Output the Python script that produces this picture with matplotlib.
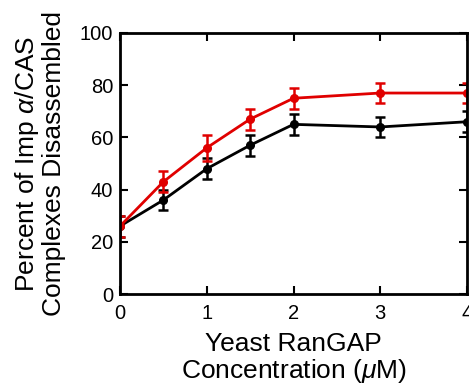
import numpy as np
import matplotlib.pyplot as plt

plt.rcParams['font.family'] = ['Liberation Sans', 'DejaVu Sans']
plt.rcParams['mathtext.fontset'] = 'custom'
plt.rcParams['mathtext.it'] = 'Liberation Sans:italic'
plt.rcParams['mathtext.rm'] = 'Liberation Sans'

# data
conc = [0, 0.5, 1, 1.5, 2, 3, 4]
black_vals = [26, 36, 48, 57, 65, 64, 66]
black_err = [4, 4, 4, 4, 4, 4, 4]
red_vals = [26, 43, 56, 67, 75, 77, 77]
red_err = [4, 4, 5, 4, 4, 4, 4]

fig = plt.figure(figsize=(4.69, 3.89), dpi=100)
ax = fig.add_axes([120/469, 1-294/389, 347/469, 261/389])

ax.errorbar(conc, black_vals, yerr=black_err, color='black', lw=2,
            marker='o', ms=5.5, capsize=3.5, capthick=1.8, elinewidth=1.8)
ax.errorbar(conc, red_vals, yerr=red_err, color='#e00000', lw=2,
            marker='o', ms=5.5, capsize=3.5, capthick=1.8, elinewidth=1.8)

ax.set_xlim(0, 4)
ax.set_ylim(0, 100)
ax.set_xticks([0, 1, 2, 3, 4])
ax.set_yticks([0, 20, 40, 60, 80, 100])
ax.tick_params(direction='in', top=True, right=True, length=6, width=1.5,
               labelsize=14.5)
ax.tick_params(axis='x', pad=7)
ax.tick_params(axis='y', pad=5)
for s in ax.spines.values():
    s.set_linewidth(2)

ax.set_xlabel('Yeast RanGAP\nConcentration ($\\mu$M)', fontsize=19,
              linespacing=1.05)
ax.set_ylabel('Percent of Imp $\\alpha$/CAS\nComplexes Disassembled',
              fontsize=19, linespacing=1.05)
ax.xaxis.set_label_coords(0.5, -0.145)
ax.yaxis.set_label_coords(-0.155, 0.5)

fig.savefig('out.png', dpi=100)
